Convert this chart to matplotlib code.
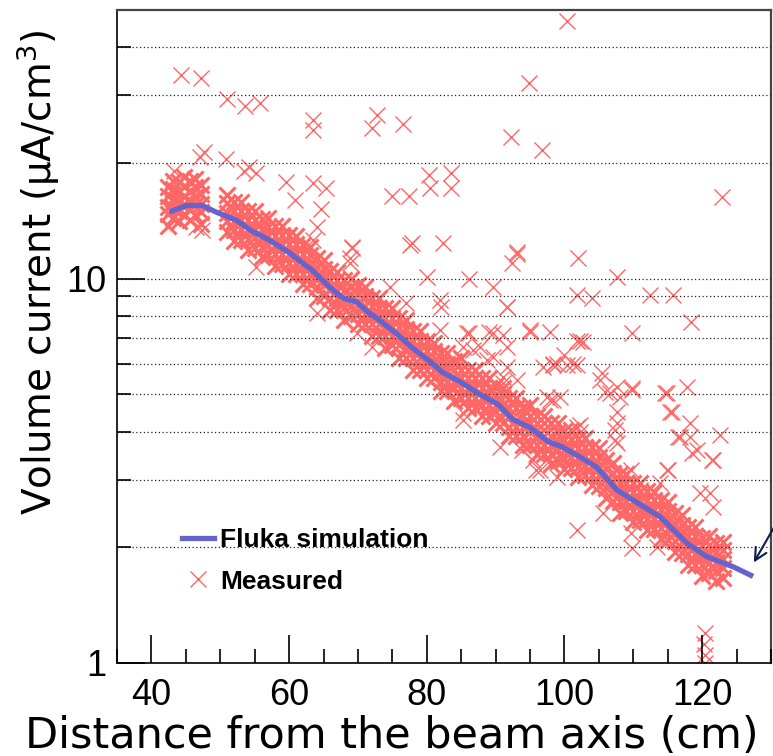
import matplotlib
matplotlib.use('Agg')
import matplotlib.pyplot as plt
from matplotlib.ticker import FixedLocator, NullFormatter, FixedFormatter, MultipleLocator
from matplotlib.lines import Line2D

plt.rcParams['font.family'] = ['Liberation Sans', 'DejaVu Sans']
plt.rcParams['mathtext.fontset'] = 'custom'
plt.rcParams['mathtext.rm'] = 'DejaVu Sans'

# ---------------- data ----------------
# Fluka simulation curve
fluka_x = [42.6, 45.1, 47.4, 49.4, 52.3, 54.6, 57.1, 60.0, 61.9, 63.4, 65.9, 67.8, 69.8, 71.4,
           73.1, 75.6, 77.9, 80.4, 82.3, 84.8, 87.7, 90.4, 92.5, 95.0, 97.6, 99.8, 102.3,
           104.7, 107.6, 110.0, 113.9, 117.8, 120.7, 124.5, 127.4]
fluka_y = [14.9, 15.5, 15.5, 14.9, 14.2, 13.3, 12.6, 11.7, 11.0, 10.5, 9.5, 8.9, 8.7, 8.2,
           7.8, 7.2, 6.6, 6.1, 5.7, 5.4, 5.0, 4.7, 4.3, 4.1, 3.77, 3.64, 3.43,
           3.23, 2.82, 2.65, 2.40, 2.05, 1.89, 1.78, 1.68]

# Measured: dense band (estimated columns across the band)
band_x = [42.4, 43.2, 44.0, 44.8, 45.6, 46.4, 47.2,
          51, 52, 53, 54, 55, 56, 57, 58, 59, 60, 61, 62, 63, 64, 65, 66, 67, 68, 69, 70,
          71, 72, 73, 74, 75, 76, 77, 78, 79, 80, 81, 82, 83, 84, 85, 86, 87, 88, 89, 90,
          91, 92, 93, 94, 95, 96, 97, 98, 99, 100, 101, 102, 103, 104, 105, 106, 107, 108,
          109, 110, 111, 112, 113, 114, 115, 116, 117, 118, 119, 120, 121, 122, 123]
band_lo2 = [13.7, 14.4, 14.1, 14.7, 14.2, 14.6, 13.9,
            13.2, 12.5, 12.6, 11.9, 12.0, 11.4, 11.5, 10.8, 10.9, 10.3, 10.3, 9.7, 9.7, 8.9,
            9.0, 8.3, 8.3, 7.8, 8.0, 7.6, 7.6, 7.1, 7.1, 6.6, 6.7, 6.2, 6.2, 5.8, 5.8, 5.5,
            5.5, 5.1, 5.1, 4.8, 4.9, 4.6, 4.6, 4.4, 4.4, 4.2, 4.2, 3.9, 3.9, 3.7, 3.7, 3.5,
            3.5, 3.3, 3.36, 3.19, 3.22, 3.04, 3.08, 2.90, 2.89, 2.68, 2.64, 2.46, 2.48, 2.33,
            2.35, 2.22, 2.23, 2.10, 2.09, 1.94, 1.93, 1.80, 1.80, 1.68, 1.71, 1.63, 1.66]
band_lo = [14.7, 15.3, 15.0, 15.6, 15.1, 15.5, 14.9,
           14.1, 13.4, 13.5, 12.7, 12.8, 12.1, 12.2, 11.6, 11.6, 11.0, 11.0, 10.3, 10.3, 9.5,
           9.6, 8.9, 8.9, 8.4, 8.5, 8.1, 8.1, 7.6, 7.6, 7.1, 7.1, 6.7, 6.6, 6.2, 6.2, 5.8,
           5.8, 5.4, 5.4, 5.2, 5.2, 4.9, 4.9, 4.7, 4.7, 4.5, 4.5, 4.1, 4.1, 3.9, 4.0, 3.7,
           3.7, 3.5, 3.58, 3.40, 3.43, 3.24, 3.28, 3.09, 3.08, 2.86, 2.81, 2.62, 2.64, 2.49,
           2.50, 2.37, 2.38, 2.25, 2.23, 2.08, 2.06, 1.92, 1.92, 1.80, 1.82, 1.74, 1.77]
band_mid = [15.4, 16.1, 15.8, 16.4, 15.9, 16.3, 15.6,
            14.8, 14.1, 14.2, 13.4, 13.4, 12.8, 12.9, 12.2, 12.2, 11.6, 11.6, 10.9, 10.9, 10.0,
            10.0, 9.4, 9.3, 8.8, 9.0, 8.6, 8.5, 8.0, 8.0, 7.5, 7.5, 7.0, 7.0, 6.5, 6.5, 6.1,
            6.1, 5.7, 5.7, 5.4, 5.5, 5.2, 5.2, 4.9, 5.0, 4.7, 4.7, 4.4, 4.3, 4.1, 4.2, 3.9,
            3.9, 3.7, 3.76, 3.58, 3.61, 3.42, 3.45, 3.26, 3.24, 3.01, 2.96, 2.76, 2.77, 2.62,
            2.63, 2.49, 2.50, 2.37, 2.35, 2.19, 2.16, 2.02, 2.02, 1.89, 1.92, 1.83, 1.86]
band_hi = [16.4, 17.1, 16.8, 17.4, 16.9, 17.3, 16.6,
           15.7, 15.0, 15.0, 14.2, 14.2, 13.5, 13.6, 12.9, 13.0, 12.3, 12.3, 11.6, 11.5, 10.7,
           10.6, 9.9, 9.9, 9.3, 9.5, 9.1, 9.0, 8.5, 8.4, 7.9, 7.9, 7.5, 7.4, 6.9, 6.9, 6.5,
           6.5, 6.0, 6.0, 5.8, 5.8, 5.5, 5.5, 5.2, 5.2, 5.0, 5.0, 4.6, 4.6, 4.4, 4.4, 4.2,
           4.2, 3.9, 3.99, 3.80, 3.82, 3.62, 3.65, 3.45, 3.43, 3.19, 3.13, 2.93, 2.94, 2.78,
           2.79, 2.65, 2.65, 2.51, 2.48, 2.32, 2.29, 2.14, 2.14, 2.01, 2.03, 1.94, 1.97]
band_hi2 = [17.3, 18.0, 17.8, 18.4, 17.9, 18.2, 17.5,
            16.5, 15.8, 15.8, 15.0, 15.0, 14.3, 14.4, 13.7, 13.7, 13.0, 12.9, 12.2, 12.1, 11.3,
            11.2, 10.5, 10.4, 9.9, 10.0, 9.6, 9.5, 8.9, 8.9, 8.4, 8.4, 7.9, 7.8, 7.3, 7.3, 6.9,
            6.8, 6.4, 6.4, 6.1, 6.2, 5.8, 5.8, 5.5, 5.5, 5.3, 5.2, 4.9, 4.9, 4.6, 4.7, 4.4,
            4.4, 4.2, 4.21, 4.02, 4.04, 3.83, 3.85, 3.65, 3.63, 3.37, 3.31, 3.10, 3.10, 2.94,
            2.94, 2.80, 2.79, 2.65, 2.62, 2.45, 2.42, 2.26, 2.26, 2.12, 2.14, 2.05, 2.07]

# Measured: scattered points read individually
out_x = [44.3, 47.2, 51.0, 53.6, 55.7, 47.7, 47.0, 43.3, 50.9, 53.5,
         54.2, 55.2, 59.6, 60.8, 63.4, 65.4, 64.7, 64.0, 63.4, 69.2, 68.8, 55.2, 63.4, 63.4, 47.4, 46.5,
         72.1, 72.7, 76.5, 100.3, 94.8, 92.2, 96.7, 75.0, 77.4, 80.3, 80.4, 83.5, 83.5, 69.1, 77.9, 77.5,
         82.3, 93.1, 102.0, 122.9,
         107.6, 101.8, 104.0, 112.4, 115.8, 118.4, 109.8, 102.7, 101.8, 100.0, 101.8, 98.9, 105.5, 107.6,
         109.8, 105.9, 108.1, 114.9, 117.8, 115.4, 107.7, 99.3, 118.2, 116.5, 118.2, 122.6, 119.3, 121.6,
         107.6, 107.4, 102.2, 114.9, 109.6,
         98.3, 100.3, 105.1, 106.6, 109.8, 114.6, 115.6, 97.9, 102.2, 107.4, 107.6, 116.8, 118.5, 121.4,
         119.7, 121.2, 121.6, 115.1, 113.9, 111.0, 111.4, 101.8, 109.6, 109.8, 105.6, 113.4, 95.4, 95.9, 93.9,
         68.8, 80.0, 86.2, 89.6, 93.1, 92.4, 82.1, 91.6, 95.0, 86.2, 89.1, 85.2, 87.7, 91.1, 91.6, 88.7,
         89.6, 91.6, 93.1, 91.1, 93.9, 96.9, 97.4, 72.1, 69.8, 74.6, 77.0, 81.9, 85.2,
         64.0, 85.2, 90.6, 96.4, 98.9, 85.8, 89.6, 95.0, 97.9, 102.3, 98.3, 101.2, 86.7, 91.0, 98.3,
         101.8, 81.9, 91.6,
         120.4, 120.2, 120.4, 120.4]
out_y = [33.8, 33.2, 29.4, 28.2, 28.6, 21.3, 20.7, 19.1, 20.5, 19.1,
         19.5, 18.8, 17.8, 16.0, 17.7, 17.2, 15.2, 13.6, 12.6, 12.1, 11.3, 10.7, 25.8, 24.4, 13.4, 13.6,
         24.7, 26.6, 25.3, 46.7, 32.2, 23.4, 21.6, 16.4, 16.4, 18.6, 17.2, 18.8, 17.2, 12.0, 12.4, 12.2,
         12.4, 11.7, 11.3, 16.3,
         10.1, 9.05, 8.89, 9.05, 9.05, 7.70, 7.21, 6.83, 6.9, 6.32, 5.95, 6.0, 5.67, 5.22,
         5.12, 5.06, 4.91, 5.03, 5.22, 4.49, 4.49, 4.91, 4.21, 3.87, 3.87, 3.91, 3.58, 3.37,
         4.21, 3.80, 4.17, 3.18, 3.18,
         5.95, 5.95, 5.44, 5.03, 5.19, 5.03, 4.49, 4.83, 3.99, 4.03, 3.73, 3.87, 3.52, 3.37,
         2.77, 2.77, 2.54, 3.18, 2.94, 2.82, 2.50, 2.22, 2.18, 1.99, 2.45, 2.00, 3.37, 3.18, 3.58,
         11.0, 10.1, 10.0, 9.5, 11.6, 11.0, 8.42, 8.42, 7.34, 7.22, 7.26, 6.63, 6.63, 7.15, 6.63, 6.13,
         6.25, 5.88, 5.44, 5.34, 4.63, 5.88, 4.91, 6.63, 7.2, 9.5, 8.63, 7.34, 4.47,
         8.13, 4.28, 3.64, 3.18, 3.04, 7.22, 7.22, 7.26, 7.26, 6.9, 6.0, 6.0, 6.51, 5.54, 4.83,
         4.11, 8.78, 8.42,
         1.20, 1.12, 1.05, 1.0]

x_major = [40, 60, 80, 100, 120]
y_major = [1, 10]
y_major_labels = ['1', '10']
y_minor = [2, 3, 4, 5, 6, 7, 8, 9, 20, 30, 40]

# ---------------- figure ----------------
fig = plt.figure(figsize=(7.73, 7.56), dpi=100)
ax = fig.add_axes([117 / 773, 1 - 663 / 756, (771 - 117) / 773, (663 - 10) / 756])
ax.set_yscale('log')
ax.set_xlim(35, 130)
ax.set_ylim(1, 50)

meas_color = '#ff6666'
mk = dict(linestyle='none', marker='x', ms=12, color=meas_color, zorder=2)
for row in (band_lo2, band_lo, band_mid, band_hi, band_hi2):
    ax.plot(band_x, row, mew=2.2, **mk)
ax.plot(out_x, out_y, mew=1.0, **mk)

ax.plot(fluka_x, fluka_y, color='#6464cc', lw=3.8, zorder=4, solid_capstyle='butt')

# axes styling
ax.xaxis.set_major_locator(FixedLocator(x_major))
ax.xaxis.set_minor_locator(MultipleLocator(5))
ax.yaxis.set_major_locator(FixedLocator(y_major))
ax.yaxis.set_major_formatter(FixedFormatter(y_major_labels))
ax.yaxis.set_minor_locator(FixedLocator(y_minor))
ax.yaxis.set_minor_formatter(NullFormatter())

ax.tick_params(axis='both', which='major', direction='in', length=20, width=1.2,
               labelsize=26, top=False, right=False)
ax.tick_params(axis='both', which='minor', direction='in', length=10, width=1.2,
               top=False, right=False)
ax.tick_params(axis='x', which='major', pad=10.5)
ax.tick_params(axis='y', which='major', pad=8)

ax.set_axisbelow(False)
ax.yaxis.grid(True, which='both', linestyle=(0, (1, 2)), color='#222222', lw=0.9)

for s in ('left', 'bottom'):
    ax.spines[s].set_color('black')
    ax.spines[s].set_linewidth(1.2)
for s in ('top', 'right'):
    ax.spines[s].set_color('#444444')
    ax.spines[s].set_linewidth(1.6)

ax.set_xlabel('Distance from the beam axis (cm)', fontsize=31, family='DejaVu Sans')
ax.xaxis.set_label_coords((392 - 117) / (771 - 117), -(748 - 663) / (663 - 10), transform=ax.transAxes)
ax.xaxis.label.set_va('baseline')
ax.set_ylabel('Volume current (μA/cm$^{\\mathregular{3}}$)', fontsize=28, family='DejaVu Sans')
ax.yaxis.set_label_coords(-(117 - 38) / (771 - 117), (663 - 272) / (663 - 10), transform=ax.transAxes)
ax.yaxis.label.set_va('center')

# legend
handles = [Line2D([], [], color='#6464cc', lw=3.8),
           Line2D([], [], linestyle='none', marker='x', ms=12, mew=1.0, color=meas_color)]
leg = ax.legend(handles, ['Fluka simulation', 'Measured'], loc='center left',
                bbox_to_anchor=(182 / 773, 1 - 561 / 756), bbox_transform=fig.transFigure,
                frameon=False, prop={'weight': 'bold', 'size': 19}, handlelength=1.2,
                handletextpad=0.25, labelspacing=0.65, borderpad=0, borderaxespad=0)

# arrow at right edge
ax.annotate('', xy=(127.3, 1.80), xytext=(130.6, 2.28),
            arrowprops=dict(arrowstyle='->', color='#0d1b50', lw=1.5, mutation_scale=22),
            annotation_clip=False)

fig.savefig('out.png', dpi=100)
